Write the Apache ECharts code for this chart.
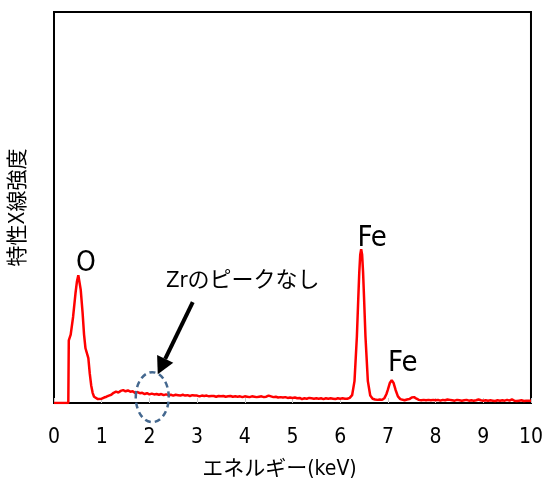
<!DOCTYPE html>
<html><head><meta charset="utf-8">
<script src="https://cdn.jsdelivr.net/npm/echarts@6/dist/echarts.min.js"></script>
<style>html,body{margin:0;padding:0;background:#fff}#c{width:546px;height:485px}</style>
</head><body><div id="c"></div>
<script>
// ---- data ----
const xTicks = [0,1,2,3,4,5,6,7,8,9,10];
const energies = [
0.00,0.30,0.31,0.35,0.40,0.45,0.48,0.51,0.53,0.56,0.60,0.63,0.66,0.68,0.70,0.72,0.75,0.78,0.81,0.84,0.88,0.92,0.96,
1.00,1.05,1.10,1.15,1.20,1.25,1.30,1.35,1.40,1.45,1.50,1.55,1.60,1.65,1.70,1.75,1.80,1.85,1.90,1.95,
2.00,2.05,2.10,2.15,2.20,2.25,2.30,2.35,2.40,2.45,2.50,2.55,2.60,2.65,2.70,2.75,2.80,2.85,2.90,2.95,
3.00,3.05,3.10,3.15,3.20,3.25,3.30,3.35,3.40,3.45,3.50,3.55,3.60,3.65,3.70,3.75,3.80,3.85,3.90,3.95,
4.00,4.05,4.10,4.15,4.20,4.25,4.30,4.35,4.40,4.45,4.50,4.55,4.60,4.65,4.70,4.75,4.80,4.85,4.90,4.95,
5.00,5.05,5.10,5.15,5.20,5.25,5.30,5.35,5.40,5.45,5.50,5.55,5.60,5.65,5.70,5.75,5.80,5.85,5.90,5.95,
6.00,6.05,6.10,6.15,6.20,6.25,6.30,6.35,6.38,6.40,6.42,6.44,6.46,6.48,6.50,6.53,6.58,6.63,6.68,6.73,6.78,6.83,6.88,
6.93,6.97,7.00,7.04,7.08,7.12,7.16,7.21,7.26,7.30,7.35,7.40,7.45,7.50,7.55,7.60,7.65,7.70,7.75,7.80,7.85,7.90,7.95,
8.00,8.05,8.10,8.15,8.20,8.25,8.30,8.35,8.40,8.45,8.50,8.55,8.60,8.65,8.70,8.75,8.80,8.85,8.90,8.95,
9.00,9.05,9.10,9.15,9.20,9.25,9.30,9.35,9.40,9.45,9.50,9.55,9.60,9.65,9.70,9.75,9.80,9.85,9.90,9.95,10.00
];
const intensity = [
0,0,16.0,17.5,22.0,28.0,31.0,32.7,32.2,29.0,23.0,17.5,14.0,13.6,13.9,11.5,7.5,4.5,2.6,1.6,1.1,1.0,1.2,
1.1,1.4,1.6,1.9,2.1,2.6,2.9,2.7,3.1,3.3,3.0,3.2,2.9,3.0,2.6,2.8,2.5,2.6,2.3,2.5,
2.2,2.4,2.2,2.3,2.1,2.3,2.0,2.2,2.0,2.1,1.9,2.1,2.0,1.9,2.1,1.9,2.0,1.8,2.0,1.9,
1.9,1.7,1.9,1.8,1.9,1.7,1.8,1.8,1.6,1.8,1.7,1.8,1.6,1.7,1.8,1.6,1.7,1.6,1.7,1.5,
1.7,1.6,1.5,1.7,1.6,1.5,1.6,1.7,1.5,1.6,1.9,1.7,1.5,1.6,1.4,1.5,1.4,1.5,1.3,1.4,
1.3,1.4,1.2,1.3,1.0,1.2,1.1,1.3,1.2,1.1,1.2,1.1,1.2,1.0,1.2,1.1,1.2,1.1,1.0,1.2,
1.1,1.2,1.1,1.1,1.3,2.0,5.6,17.0,27.0,33.4,37.9,39.3,37.9,33.4,27.0,17.0,5.6,1.9,1.1,0.9,0.8,0.9,0.8,
1.3,2.3,3.4,5.1,5.8,5.1,3.4,1.7,1.0,0.8,0.7,0.9,1.0,1.4,1.5,1.1,0.8,0.7,0.8,0.7,0.8,0.7,0.8,
0.7,0.8,0.6,0.8,0.7,0.9,0.8,0.7,0.6,0.8,0.7,0.6,0.7,0.8,0.6,0.7,0.6,0.7,0.9,0.7,
0.6,0.7,0.6,0.7,0.6,0.5,0.7,0.6,0.7,0.6,0.8,0.6,0.9,0.6,0.5,0.6,0.7,0.5,0.6,0.6,0.6
];
const peakLabels = ['O','Fe','Fe'];
const peakEnergies = [0.52, 6.44, 7.08];
const peakHeights = [32.7, 39.3, 5.8];
const noteText = 'Zrのピークなし';

// ---- chart ----
const chart = echarts.init(document.getElementById('c'), null, {renderer:'canvas'});
const latin = "'DejaVu Sans Condensed','Liberation Sans Narrow','Noto Sans CJK JP',sans-serif";
const option = {
  animation:false,
  backgroundColor:'#fff',
  grid:{left:53,right:15,top:12,bottom:81,show:true,borderColor:'#000',borderWidth:2,backgroundColor:'transparent'},
  xAxis:{type:'value',min:0,max:10,interval:1,
    axisLine:{show:true,onZero:false,lineStyle:{color:'#000',width:2}},
    axisTick:{show:true,inside:true,length:5,lineStyle:{color:'#c8c8c8',width:1}},
    splitLine:{show:false},
    axisLabel:{color:'#000',fontSize:21,fontFamily:latin,margin:24,formatter:v=>xTicks.includes(v)?String(v):''},
    name:'エネルギー(keV)',nameLocation:'middle',nameGap:56,
    nameTextStyle:{color:'#000',fontSize:21,fontFamily:latin,padding:[0,26,0,0]}
  },
  yAxis:{type:'value',min:0,max:100,
    axisLine:{show:false},axisTick:{show:false},axisLabel:{show:false},splitLine:{show:false},
    name:'特性X線強度',nameLocation:'middle',nameGap:25,nameRotate:90,
    nameTextStyle:{color:'#000',fontSize:21,fontFamily:latin}
  },
  series:[{
    type:'line',data:energies.map((e,i)=>[e,intensity[i]]),
    showSymbol:false,symbol:'none',clip:true,
    lineStyle:{color:'#ff0000',width:2.5},
    z:3
  }]
};
chart.setOption(option);

// ---- annotations positioned from data coordinates ----
const px = p => chart.convertToPixel({gridIndex:0}, p);
const labelOffsets = [[7,-11],[11,-11],[11,-17]];
const labelSizes = [28,29,29];
const g = [];
peakLabels.forEach((t,i)=>{
  const p = px([peakEnergies[i], peakHeights[i]]);
  g.push({type:'text',x:p[0]+labelOffsets[i][0],y:p[1]+labelOffsets[i][1],
    style:{text:t,fontSize:labelSizes[i],fontFamily:latin,fill:'#000',align:'center',verticalAlign:'middle'},z:10});
});
// "no Zr peak" ellipse, arrow and note
const ec = px([2.06, 1.5]);
g.push({type:'ellipse',shape:{cx:ec[0],cy:ec[1],rx:16.5,ry:25},
  style:{fill:'none',stroke:'#44688f',lineWidth:2.5,lineDash:[6,4]},z:9});
const tip = [ec[0]+5.5, ec[1]-23];
const tail = [tip[0]+35, tip[1]-72];
const dx = tail[0]-tip[0], dy = tail[1]-tip[1];
const len = Math.hypot(dx,dy), ux = dx/len, uy = dy/len;
const hl = 17, hw = 9;
const base = [tip[0]+ux*hl, tip[1]+uy*hl];
g.push({type:'line',shape:{x1:tail[0],y1:tail[1],x2:base[0],y2:base[1]},style:{stroke:'#000',lineWidth:4},z:10});
g.push({type:'polygon',shape:{points:[tip,[base[0]-uy*hw,base[1]+ux*hw],[base[0]+uy*hw,base[1]-ux*hw]]},style:{fill:'#000'},z:10});
g.push({type:'text',x:tail[0]+50,y:tail[1]-21,
  style:{text:noteText,fontSize:22,fontFamily:latin,fill:'#000',align:'center',verticalAlign:'middle'},z:10});
chart.setOption({graphic:g});
</script></body></html>
